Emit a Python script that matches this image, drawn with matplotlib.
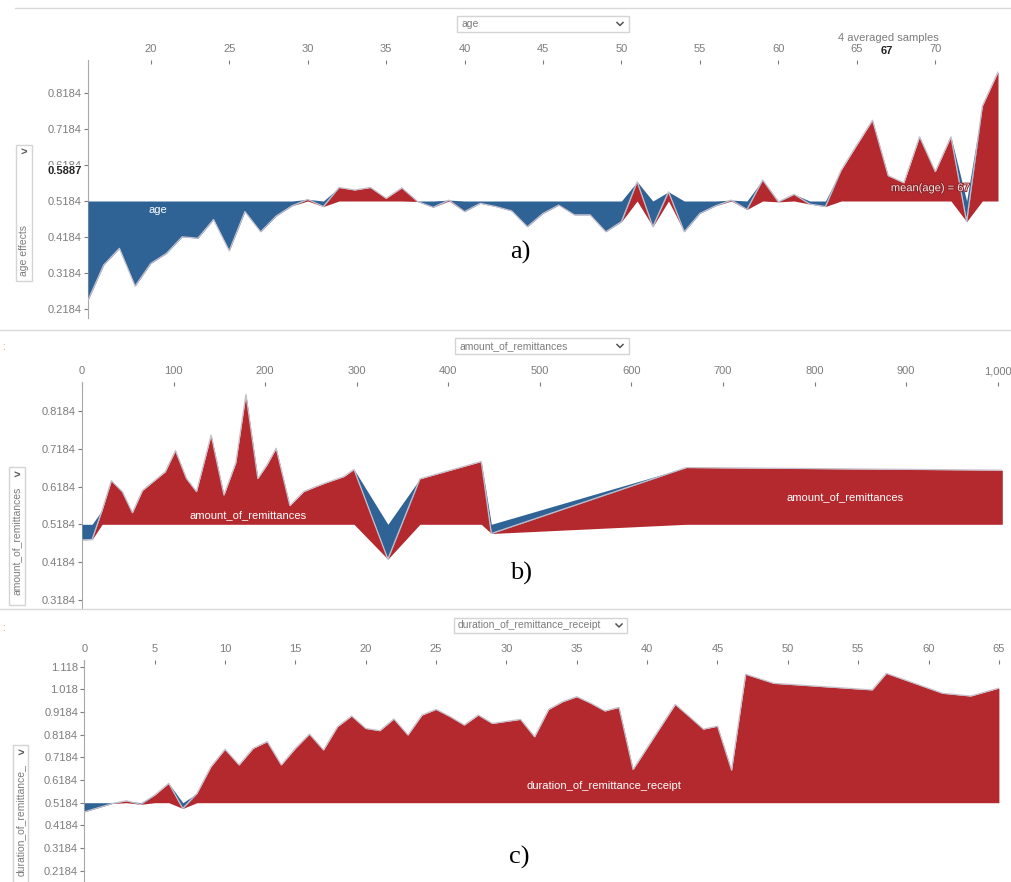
import matplotlib.pyplot as plt
import numpy as np
from matplotlib import patheffects
from matplotlib.lines import Line2D
from matplotlib.patches import Rectangle

plt.rcParams["font.family"] = ["Liberation Sans", "DejaVu Sans"]

W, H = 1011, 882
BASE = 0.5184
RED = "#b3292e"
BLUE = "#2f6395"
EDGE = "#c6bfcc"
GRAY = "#7c7c7c"
LINE = "#d9d9d9"
FS = 8
FS_SMALL = 7.5

# a) age effects, one sample per year of age
age_x = list(range(16, 75))
age_y = [0.243, 0.341, 0.387, 0.282, 0.345, 0.373, 0.419, 0.415, 0.467, 0.380,
         0.489, 0.433, 0.477, 0.505, 0.523, 0.503, 0.556, 0.549, 0.556, 0.526,
         0.555, 0.517, 0.501, 0.521, 0.489, 0.512, 0.503, 0.491, 0.447, 0.484,
         0.507, 0.480, 0.480, 0.433, 0.461, 0.572, 0.447, 0.544, 0.433, 0.484,
         0.505, 0.521, 0.495, 0.577, 0.516, 0.537, 0.510, 0.503, 0.604, 0.674,
         0.743, 0.5887, 0.569, 0.697, 0.600, 0.697, 0.461, 0.782, 0.877]
age_xticks = [20, 25, 30, 35, 40, 45, 50, 55, 60, 65, 70]
age_yticks = [0.2184, 0.3184, 0.4184, 0.5184, 0.6184, 0.7184, 0.8184]

# b) amount_of_remittances
amt_x = [0, 11, 22, 32, 44, 55, 66, 78, 91, 102, 114, 125, 141, 155, 168, 179,
         192, 202, 212, 227, 242, 255, 267, 286, 297, 334, 369, 436, 447, 660, 1005]
amt_y = [0.477, 0.478, 0.556, 0.634, 0.605, 0.549, 0.608, 0.632, 0.658, 0.714,
         0.640, 0.605, 0.755, 0.596, 0.682, 0.863, 0.640, 0.676, 0.720, 0.568,
         0.605, 0.618, 0.629, 0.645, 0.664, 0.426, 0.639, 0.685, 0.494, 0.669, 0.662]
amt_xticks = [0, 100, 200, 300, 400, 500, 600, 700, 800, 900, 1000]
amt_xlabels = ["0", "100", "200", "300", "400", "500", "600", "700", "800", "900", "1,000"]
amt_yticks = [0.3184, 0.4184, 0.5184, 0.6184, 0.7184, 0.8184]

# c) duration_of_remittance_receipt
dur_x = [0, 2, 3, 4, 5, 6, 7, 8, 9, 10, 11, 12, 13, 14, 15, 16, 17, 18, 19, 20,
         21, 22, 23, 24, 25, 26, 27, 28, 29, 31, 32, 33, 34, 35, 36, 37, 38, 39,
         42, 43, 44, 45, 46, 47, 49, 56, 57, 61, 63, 65]
dur_y = [0.478, 0.515, 0.527, 0.511, 0.552, 0.604, 0.493, 0.559, 0.677, 0.754,
         0.685, 0.758, 0.788, 0.685, 0.758, 0.821, 0.751, 0.854, 0.901, 0.846,
         0.836, 0.888, 0.817, 0.905, 0.930, 0.898, 0.861, 0.905, 0.868, 0.886,
         0.809, 0.930, 0.964, 0.986, 0.957, 0.923, 0.939, 0.665, 0.952, 0.898,
         0.843, 0.856, 0.662, 1.085, 1.045, 1.016, 1.089, 1.001, 0.989, 1.024]
dur_xticks = [0, 5, 10, 15, 20, 25, 30, 35, 40, 45, 50, 55, 60, 65]
dur_yticks = [0.2184, 0.3184, 0.4184, 0.5184, 0.6184, 0.7184, 0.8184, 0.9184, 1.018, 1.118]


def fx(x):
    return x / W


def fy(y):
    return 1 - y / H


def add_panel(fig, box, x, y, xlim, ylim, xticks, xlabels, yticks):
    left, top, right, bottom = box
    ax = fig.add_axes([fx(left), fy(bottom), (right - left) / W, (bottom - top) / H])
    x = np.asarray(x, dtype=float)
    y = np.asarray(y, dtype=float)
    # positive part grows up from the baseline, negative part is laid over it
    ax.fill_between(x, np.minimum(y, BASE), y, color=RED, lw=0, zorder=2)
    ax.fill_between(x, np.maximum(y, BASE), y, color=BLUE, lw=0, zorder=3)
    ax.plot(x, y, color=EDGE, lw=0.9, zorder=4)
    ax.set_xlim(*xlim)
    ax.set_ylim(*ylim)
    ax.xaxis.tick_top()
    ax.set_xticks(xticks)
    ax.set_xticklabels(xlabels if xlabels else [str(t) for t in xticks])
    ax.set_yticks(yticks)
    ax.set_yticklabels([f"{t:.4g}" if t >= 1 else f"{t:.4f}" for t in yticks])
    ax.tick_params(axis="x", direction="in", length=3, width=0.8, colors=GRAY,
                   labelsize=FS, pad=4)
    ax.tick_params(axis="y", direction="out", length=3, width=0.8, colors=GRAY,
                   labelsize=FS, pad=1.5)
    for side in ["top", "right", "bottom"]:
        ax.spines[side].set_visible(False)
    ax.spines["left"].set_color("#a8a8a8")
    ax.patch.set_alpha(0)
    return ax


def side_box(fig, x0, y0, x1, y1, label, text_y, chevron_y):
    fig.add_artist(Rectangle((fx(x0), fy(y1)), (x1 - x0) / W, (y1 - y0) / H,
                             transform=fig.transFigure, fill=False,
                             ec="#d4d4d4", lw=1))
    cx = (x0 + x1) / 2
    fig.text(fx(cx), fy(text_y), label, rotation=90, ha="center", va="center",
             color=GRAY, fontsize=FS_SMALL)
    fig.text(fx(cx), fy(chevron_y), ">", ha="center", va="center",
             color="#555555", fontsize=8, fontweight="bold")


def dropdown(fig, x0, y0, x1, y1, label, chevron_x):
    fig.add_artist(Rectangle((fx(x0), fy(y1)), (x1 - x0) / W, (y1 - y0) / H,
                             transform=fig.transFigure, fill=False,
                             ec="#d4d4d4", lw=1))
    fig.text(fx(x0 + 4), fy((y0 + y1) / 2), label, ha="left", va="center",
             color=GRAY, fontsize=FS_SMALL)
    cy = (y0 + y1) / 2
    fig.add_artist(Line2D([fx(chevron_x - 3), fx(chevron_x), fx(chevron_x + 3)],
                          [fy(cy - 1.5), fy(cy + 1.5), fy(cy - 1.5)],
                          transform=fig.transFigure, color="#555555", lw=1.1))


fig = plt.figure(figsize=(W / 100, H / 100), dpi=100)

# separators between the three views
for yy, x0 in [(8, 15), (330, 0), (609, 0)]:
    fig.add_artist(Line2D([fx(x0), 1], [fy(yy), fy(yy)], transform=fig.transFigure,
                          color=LINE, lw=1))

# a) age
ax_a = add_panel(fig, (88, 60, 998, 318), age_x, age_y, (16, 74), (0.1934, 0.9101),
                 age_xticks, None, age_yticks)
ax_a.text(20.46, 0.4934, "age", color="white", fontsize=FS, ha="center", va="center",
          zorder=5)
ax_a.text(69.7, 0.554, "mean(age) = 67", color="#f6e4e4", fontsize=FS, ha="center",
          va="center", zorder=5,
          path_effects=[patheffects.withStroke(linewidth=1.4, foreground="#8e2226")])
fig.text(fx(82), fy(171), "0.5887", ha="right", va="center", fontsize=FS,
         fontweight="bold", color="#222222",
         bbox=dict(boxstyle="square,pad=0.1", fc="white", ec="none"))
fig.text(fx(888), fy(38), "4 averaged samples", ha="center", va="center",
         fontsize=FS, color=GRAY)
fig.text(fx(887), fy(51), "67", ha="center", va="center", fontsize=FS,
         fontweight="bold", color="#222222")
dropdown(fig, 457, 16, 629, 32, "age", 620)
side_box(fig, 16, 145, 32, 281, "age effects", 250, 153)
fig.text(fx(520), fy(252), "a)", ha="center", va="center", fontsize=19,
         family="Liberation Serif")

# b) amount_of_remittances
ax_b = add_panel(fig, (82, 382, 1002.3, 608), amt_x, amt_y, (0, 1005), (0.2964, 0.8958),
                 amt_xticks, amt_xlabels, amt_yticks)
ax_b.text(181, 0.543, "amount_of_remittances", color="white", fontsize=FS,
          ha="center", va="center", zorder=5)
ax_b.text(833, 0.591, "amount_of_remittances", color="white", fontsize=FS,
          ha="center", va="center", zorder=5)
dropdown(fig, 455, 338, 629, 354, "amount_of_remittances", 620)
side_box(fig, 9, 467, 25, 605, "amount_of_remittances", 541, 476)
fig.text(fx(521), fy(573), "b)", ha="center", va="center", fontsize=19,
         family="Liberation Serif")

# c) duration_of_remittance_receipt
ax_c = add_panel(fig, (84.3, 660, 998.9, 882), dur_x, dur_y, (0, 65), (0.1686, 1.1479),
                 dur_xticks, None, dur_yticks)
ax_c.text(36.9, 0.592, "duration_of_remittance_receipt", color="white", fontsize=FS,
          ha="center", va="center", zorder=5)
dropdown(fig, 454, 618, 627, 633, "duration_of_remittance_receipt", 619)
side_box(fig, 13, 745, 28, 884, "duration_of_remittance_", 820, 754)
fig.text(fx(519), fy(857), "c)", ha="center", va="center", fontsize=19,
         family="Liberation Serif")

# small marks at the left edge of the page
fig.text(fx(3), fy(347), ":", color="#e08a2c", fontsize=7, ha="center", va="center")
fig.text(fx(3), fy(628), ":", color="#e08a2c", fontsize=7, ha="center", va="center")

fig.savefig("out.png", dpi=100)
